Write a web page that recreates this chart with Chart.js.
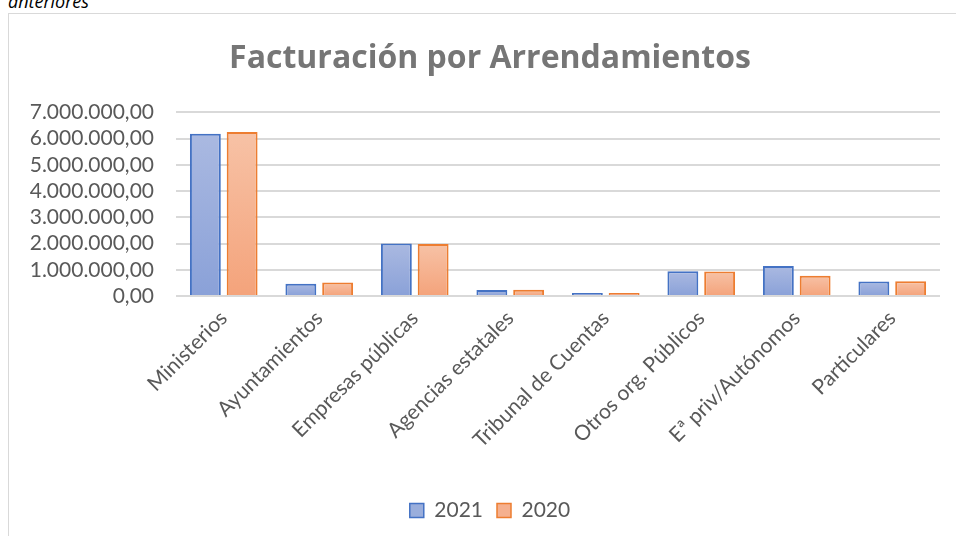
<!DOCTYPE html>
<html>
<head>
<meta charset="utf-8">
<script src="https://cdn.jsdelivr.net/npm/chart.js@4.4.1/dist/chart.umd.min.js"></script>
<style>
  html, body { margin: 0; padding: 0; background: #fff; overflow: hidden; }
  body { width: 956px; height: 536px; position: relative; }
  #note {
    position: absolute; left: 8px; top: -11px;
    font: italic 18px "Open Sans", sans-serif; color: #000;
  }
  #frame {
    position: absolute; left: 8px; top: 13px;
    width: 980px; height: 560px;
    border: 1px solid #d9d9d9; box-sizing: border-box;
  }
  #wrap { position: absolute; left: 9px; top: 14px; width: 962px; height: 522px; }
</style>
</head>
<body>
<div id="note">anteriores</div>
<div id="frame"></div>
<div id="wrap"><canvas id="chart"></canvas></div>
<script>
/* =========================
   DATA
   ========================= */
const categorias = [
  "Ministerios", "Ayuntamientos", "Empresas públicas", "Agencias estatales",
  "Tribunal de Cuentas", "Otros org. Públicos", "Eª priv/Autónomos", "Particulares"
];
const serie2021 = [6190000, 470000, 2000000, 230000, 60000, 940000, 1140000, 550000];
const serie2020 = [6250000, 510000, 1980000, 240000, 60000, 930000, 770000, 560000];
const anios = ["2021", "2020"];

const GRIS = "#595959";
const FUENTE = "Lato, 'Open Sans', sans-serif";

// 7.000.000,00 style
function formatoEs(v) {
  const entero = Math.round(v).toString().replace(/\B(?=(\d{3})+(?!\d))/g, ".");
  return entero + ",00";
}

function degradado(claro, oscuro, solido) {
  return ctx => {
    const chart = ctx.chart;
    const y = chart.scales && chart.scales.y;
    if (!chart.chartArea || !y || ctx.raw == null) return solido;
    const top = y.getPixelForValue(ctx.raw);
    const base = y.getPixelForValue(0);
    if (!isFinite(top) || Math.abs(base - top) < 4) return solido;
    const g = chart.ctx.createLinearGradient(0, top, 0, base);
    g.addColorStop(0, claro);
    g.addColorStop(1, oscuro);
    return g;
  };
}

const datos = {
  labels: categorias,
  datasets: [
    {
      label: anios[0],
      data: serie2021,
      backgroundColor: degradado("#aab9e1", "#8aa1d8", "#8da4d9"),
      borderColor: "#4472c4",
      borderWidth: 2,
      borderSkipped: "bottom"
    },
    {
      label: anios[1],
      data: serie2020,
      backgroundColor: degradado("#f7c2a6", "#f4a37b", "#f4a57e"),
      borderColor: "#ed7d31",
      borderWidth: 2,
      borderSkipped: "bottom"
    }
  ]
};

const rellenoLeyenda = ["#9aaedc", "#f5b08f"];

new Chart(document.getElementById("chart"), {
  type: "bar",
  data: datos,
  options: {
    responsive: true,
    maintainAspectRatio: false,
    animation: false,
    datasets: {
      bar: { categoryPercentage: 0.77, barPercentage: 0.84, minBarLength: 3 }
    },
    layout: { padding: { left: 0, right: 0, top: 0, bottom: 5 } },
    plugins: {
      title: {
        display: true,
        text: "Facturación por Arrendamientos",
        color: "#767676",
        font: { family: "'Open Sans', sans-serif", size: 32, weight: "bold" },
        padding: { top: 26, bottom: 34 }
      },
      legend: {
        position: "bottom",
        labels: {
          color: GRIS,
          font: { family: FUENTE, size: 21 },
          boxWidth: 14,
          boxHeight: 14,
          padding: 14,
          generateLabels: chart => chart.data.datasets.map((ds, i) => ({
            text: ds.label,
            fillStyle: rellenoLeyenda[i],
            strokeStyle: ds.borderColor,
            lineWidth: 1.5,
            fontColor: GRIS,
            datasetIndex: i
          }))
        }
      },
      tooltip: { enabled: false }
    },
    scales: {
      x: {
        grid: { display: false },
        border: { display: false },
        afterFit: s => { s.height = 190; },
        ticks: {
          color: GRIS,
          font: { family: FUENTE, size: 21 },
          minRotation: 45,
          maxRotation: 45,
          autoSkip: false,
          padding: 2
        }
      },
      y: {
        min: 0,
        max: 7000000,
        border: { display: false },
        afterFit: s => { s.width = 167; },
        grid: { color: "#d9d9d9", lineWidth: 2, drawTicks: false },
        ticks: {
          stepSize: 1000000,
          autoSkip: false,
          color: GRIS,
          font: { family: FUENTE, size: 21 },
          padding: 22,
          callback: v => formatoEs(v)
        }
      },
      // spacer on the right so the plot ends where the reference does
      yR: {
        position: "right",
        display: true,
        grid: { display: false },
        border: { display: false },
        ticks: { display: false },
        afterFit: s => { s.width = 31; }
      }
    }
  }
});
</script>
</body>
</html>
